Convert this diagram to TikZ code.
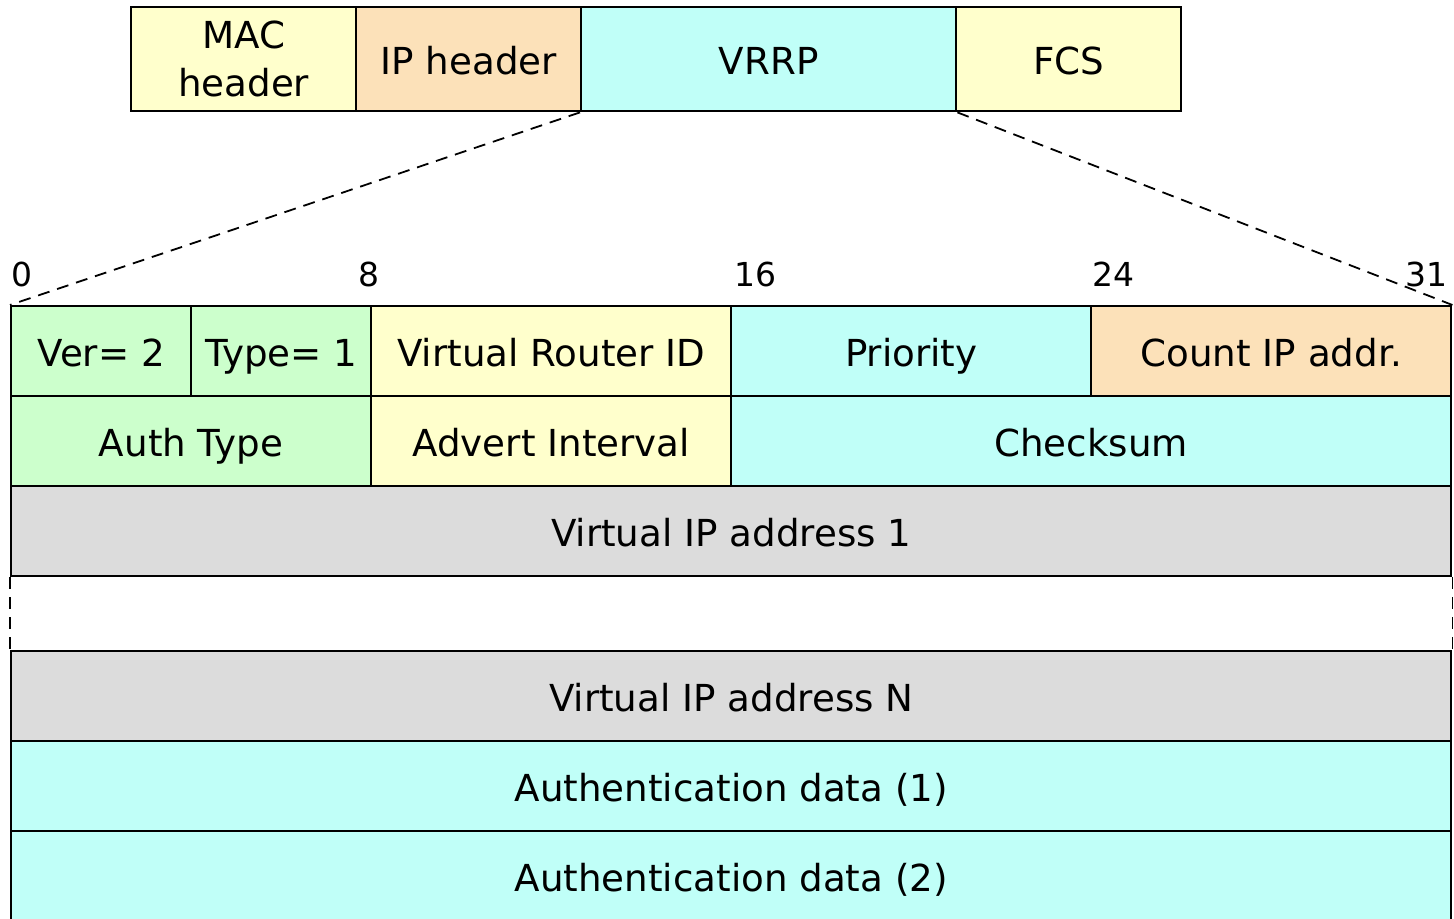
\documentclass[tikz,border=0pt]{standalone}
\usepackage{fontspec}
\setmainfont{DejaVu Sans}
\definecolor{cyel}{HTML}{FFFFCC}
\definecolor{cpeach}{HTML}{FCE1B9}
\definecolor{ccyan}{HTML}{C0FFF8}
\definecolor{cgreen}{HTML}{CCFFCC}
\definecolor{cgray}{HTML}{DCDCDC}
\begin{document}
\begin{tikzpicture}[x=0.5pt,y=-0.5pt,
  cell/.style={draw=black, line width=1.2pt, anchor=north west, inner sep=0pt,
    minimum height=45pt, font=\fontsize{18.6}{24}\selectfont, text=black, align=center,
    text height=13.6pt+2pt, text depth=0pt},
  topcell/.style={cell, minimum height=52pt},
  bitlabel/.style={anchor=base, inner sep=0pt, font=\fontsize{16.5}{18}\selectfont},
  zoomline/.style={dashed, dash pattern=on 6pt off 4pt, line width=0.9pt}]
\useasboundingbox (0,0) rectangle (1454,919);
\clip (0,0) rectangle (1454,919);
% top frame
\node[topcell, fill=cyel, minimum width=112.5pt, text height={}, text depth={}] (mac) at (130,6) {MAC\\header};
\node[topcell, fill=cpeach, minimum width=112.5pt] (iph) at (355,6) {IP header};
\node[topcell, fill=ccyan, minimum width=187.5pt] (vrrp) at (580,6) {VRRP};
\node[topcell, fill=cyel, minimum width=112.5pt] (fcs) at (955,6) {FCS};
% row 1
\node[cell, fill=cgreen, minimum width=90pt] (ver) at (10,305) {Ver= 2};
\node[cell, fill=cgreen, minimum width=90pt] (type) at (190,305) {Type= 1};
\node[cell, fill=cyel, minimum width=180pt] (vrid) at (370,305) {Virtual Router ID};
\node[cell, fill=ccyan, minimum width=180pt] (prio) at (730,305) {Priority};
\node[cell, fill=cpeach, minimum width=180pt] (count) at (1090,305) {Count IP addr.};
% row 2
\node[cell, fill=cgreen, minimum width=180pt] (auth) at (10,395) {Auth Type};
\node[cell, fill=cyel, minimum width=180pt] (adv) at (370,395) {Advert Interval};
\node[cell, fill=ccyan, minimum width=360pt] (csum) at (730,395) {Checksum};
% row 3
\node[cell, fill=cgray, minimum width=720pt] (vip1) at (10,485) {Virtual IP address 1};
% rows after gap
\node[cell, fill=cgray, minimum width=720pt] (vipn) at (10,650) {Virtual IP address N};
\node[cell, fill=ccyan, minimum width=720pt] (ad1) at (10,740) {Authentication data (1)};
\node[cell, fill=ccyan, minimum width=720pt] (ad2) at (10,830) {Authentication data (2)};
% bit labels
\node[bitlabel] (b0) at (22,287) {0};
\node[bitlabel] (b8) at (369,287) {8};
\node[bitlabel] (b16) at (755,287) {16};
\node[bitlabel] (b24) at (1113,287) {24};
\node[bitlabel, anchor=base east] (b31) at (1448,287) {31};
% zoom lines
\draw[zoomline] (vrrp.south west) -- (ver.north west);
\draw[zoomline] (vrrp.south east) -- (count.north east);
% gap lines
\draw[zoomline] (vip1.south west) -- (vipn.north west);
\draw[zoomline] (vip1.south east) -- (vipn.north east);
\end{tikzpicture}
\end{document}
